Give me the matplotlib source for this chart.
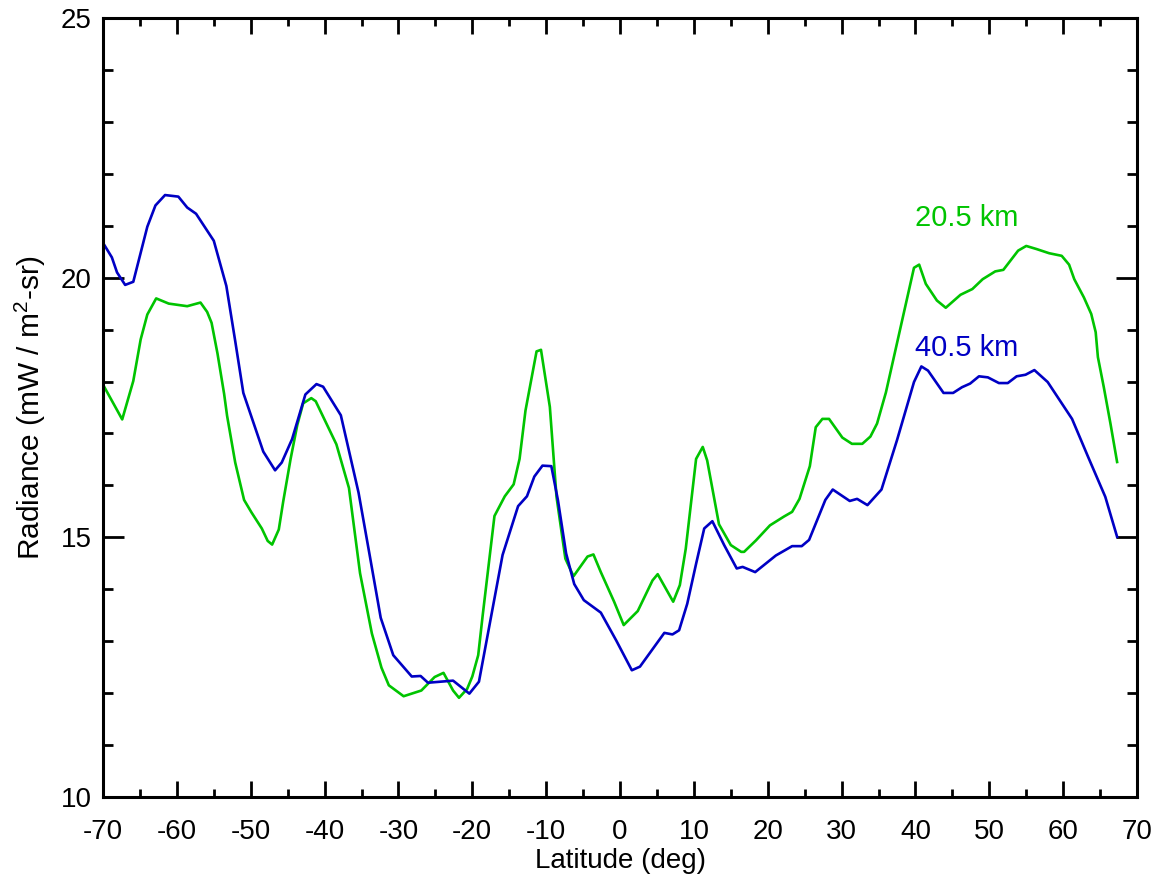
import numpy as np
import matplotlib
matplotlib.use("Agg")
import matplotlib.pyplot as plt
from matplotlib.ticker import MultipleLocator

plt.rcParams['font.family'] = ['Liberation Sans', 'DejaVu Sans']
plt.rcParams['axes.unicode_minus'] = False
plt.rcParams['mathtext.fontset'] = 'custom'
plt.rcParams['mathtext.rm'] = 'Liberation Sans'

## Radiance vs latitude, two tangent heights
# 20.5 km (green)
lat_20 = [-70.0, -67.4, -65.9, -64.9, -64.0, -62.8, -61.1, -58.6, -56.8, -55.9, -55.3, -54.5,
          -53.6, -53.2, -52.6, -52.1, -50.9, -49.9, -48.5, -47.7, -47.1, -46.2, -45.6, -44.6,
          -43.7, -42.9, -41.8, -41.2, -38.4, -36.7, -35.2, -33.6, -32.3, -31.3, -29.3, -26.9,
          -25.1, -23.9, -22.6, -21.8, -20.7, -20.0, -19.2, -18.6, -17.0, -15.6, -14.4, -13.6,
          -12.8, -11.3, -10.7, -9.5, -8.6, -7.4, -6.3, -4.4, -3.6, -2.6, -0.8, 0.5,
          2.4, 4.4, 5.1, 7.2, 8.1, 8.9, 10.3, 11.2, 11.8, 13.4, 15.0, 16.4,
          16.8, 18.4, 20.3, 22.2, 23.3, 24.3, 25.7, 26.5, 27.4, 28.3, 30.1, 31.4,
          32.8, 33.9, 34.8, 36.0, 39.8, 40.5, 41.4, 42.9, 44.1, 46.1, 47.7, 49.1,
          50.8, 51.9, 53.9, 55.0, 56.4, 58.1, 59.8, 60.8, 61.5, 62.8, 63.8, 64.4,
          64.7, 65.5, 66.4, 67.3]
rad_20 = [17.94, 17.27, 18.01, 18.81, 19.29, 19.60, 19.50, 19.45, 19.52, 19.34, 19.13, 18.54,
          17.76, 17.34, 16.85, 16.44, 15.72, 15.48, 15.17, 14.93, 14.86, 15.15, 15.69, 16.51,
          17.16, 17.58, 17.68, 17.62, 16.79, 15.95, 14.31, 13.15, 12.49, 12.15, 11.94, 12.05,
          12.31, 12.39, 12.05, 11.91, 12.08, 12.32, 12.73, 13.49, 15.41, 15.79, 16.02, 16.51,
          17.44, 18.58, 18.61, 17.51, 15.78, 14.59, 14.25, 14.63, 14.67, 14.33, 13.76, 13.31,
          13.58, 14.17, 14.29, 13.76, 14.08, 14.78, 16.51, 16.74, 16.48, 15.25, 14.85, 14.72,
          14.72, 14.94, 15.23, 15.40, 15.49, 15.74, 16.37, 17.12, 17.28, 17.28, 16.92, 16.80,
          16.80, 16.94, 17.19, 17.79, 20.19, 20.25, 19.88, 19.56, 19.42, 19.67, 19.78, 19.97,
          20.12, 20.15, 20.52, 20.61, 20.55, 20.47, 20.42, 20.25, 19.97, 19.62, 19.30, 18.95,
          18.47, 17.89, 17.19, 16.45]

# 40.5 km (blue)
lat_40 = [-70.0, -68.8, -68.1, -67.0, -65.9, -64.0, -62.9, -61.6, -59.8, -58.6, -57.4, -55.0,
          -53.3, -52.1, -51.0, -48.3, -46.7, -45.8, -44.4, -42.6, -41.1, -40.2, -37.8, -35.4,
          -33.9, -32.4, -30.7, -28.2, -27.0, -26.0, -22.6, -20.4, -19.1, -15.9, -13.8, -12.6,
          -11.6, -10.5, -9.3, -8.4, -7.3, -6.2, -4.9, -2.6, -0.5, 1.6, 2.7, 6.0,
          7.1, 8.0, 9.1, 10.3, 11.4, 12.5, 14.1, 15.8, 16.6, 18.3, 21.1, 23.3,
          24.6, 25.6, 27.8, 28.8, 31.1, 32.1, 33.5, 35.4, 37.5, 39.8, 40.8, 41.7,
          43.8, 45.1, 46.3, 47.4, 48.6, 49.8, 51.3, 52.5, 53.7, 54.9, 56.1, 57.9,
          61.2, 63.4, 65.7, 67.3]
rad_40 = [20.67, 20.39, 20.10, 19.86, 19.92, 20.98, 21.39, 21.59, 21.56, 21.35, 21.23, 20.71,
          19.84, 18.78, 17.78, 16.65, 16.29, 16.44, 16.89, 17.75, 17.95, 17.90, 17.35, 15.86,
          14.66, 13.45, 12.73, 12.32, 12.33, 12.20, 12.24, 11.99, 12.22, 14.66, 15.60, 15.79,
          16.17, 16.38, 16.37, 15.71, 14.69, 14.10, 13.79, 13.55, 13.01, 12.44, 12.51, 13.16,
          13.13, 13.21, 13.72, 14.49, 15.17, 15.31, 14.85, 14.40, 14.43, 14.33, 14.65, 14.83,
          14.83, 14.95, 15.72, 15.92, 15.70, 15.74, 15.62, 15.92, 16.87, 17.99, 18.29, 18.21,
          17.78, 17.78, 17.89, 17.96, 18.10, 18.08, 17.97, 17.97, 18.10, 18.13, 18.22, 17.99,
          17.28, 16.54, 15.78, 15.01]

GREEN = '#00c400'
BLUE = '#0000c4'

fig = plt.figure(figsize=(11.56, 8.76), dpi=100)
ax = fig.add_axes([0.0891, 0.0902, 0.8945, 0.8893])

ax.plot(lat_20, rad_20, color=GREEN, lw=1.9)
ax.plot(lat_40, rad_40, color=BLUE, lw=1.9)

ax.text(40.0, 21.0, '20.5 km', color=GREEN, fontsize=21)
ax.text(40.0, 18.5, '40.5 km', color=BLUE, fontsize=21)

ax.set_xlim(-70, 70)
ax.set_ylim(10, 25)
ax.xaxis.set_major_locator(MultipleLocator(10))
ax.xaxis.set_minor_locator(MultipleLocator(5))
ax.yaxis.set_major_locator(MultipleLocator(5))
ax.yaxis.set_minor_locator(MultipleLocator(1))

for s in ax.spines.values():
    s.set_linewidth(2.2)
ax.tick_params(axis='both', which='both', direction='in', top=True, right=True, width=2.0,
               labelsize=20)
ax.tick_params(axis='x', which='major', length=11.2, pad=16)
ax.tick_params(axis='x', which='minor', length=5.6)
ax.tick_params(axis='y', which='major', length=15, pad=8)
ax.tick_params(axis='y', which='minor', length=7.5)

ax.set_xlabel('Latitude (deg)', fontsize=20, labelpad=2)
ax.set_ylabel('Radiance (mW / m$^{2}$-sr)', fontsize=21.5, labelpad=9)

fig.canvas.draw()
ylabs = ax.get_yticklabels()
ylabs[0].set_verticalalignment('bottom')
ylabs[-1].set_verticalalignment('top')

plt.savefig('out.png', dpi=100)
